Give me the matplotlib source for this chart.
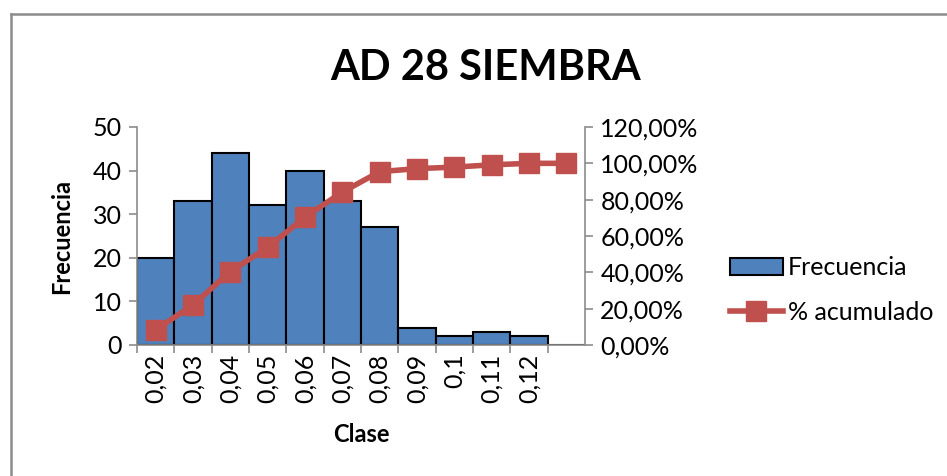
import numpy as np
import matplotlib
matplotlib.use("Agg")
import matplotlib.pyplot as plt
from matplotlib.lines import Line2D
from matplotlib.patches import Patch

clases = ["0,02", "0,03", "0,04", "0,05", "0,06", "0,07", "0,08", "0,09", "0,1", "0,11", "0,12", ""]
frecuencia = [20, 33, 44, 32, 40, 33, 27, 4, 2, 3, 2, 0]
acumulado = [8.33, 22.08, 40.42, 53.75, 70.42, 84.17, 95.42, 97.08, 97.92, 99.17, 100.0, 100.0]

plt.rcParams['font.family'] = ['Lato', 'DejaVu Sans']

W, H = 947, 476
fig = plt.figure(figsize=(W / 100, H / 100), dpi=100)

# chart frame (gray border, open at right/bottom)
fig.add_artist(Line2D([11 / W, 11 / W], [0, 1 - 14 / H], color="#8c8c8c", lw=1.8))
fig.add_artist(Line2D([11 / W, 1], [1 - 14 / H, 1 - 14 / H], color="#8c8c8c", lw=1.8))

L, R, B, T = 137, 585, 345, 127
ax = fig.add_axes([L / W, 1 - B / H, (R - L) / W, (B - T) / H])
x = np.arange(len(clases))
ax.bar(x, frecuencia, width=1.0, color="#4f81bd", edgecolor="black", linewidth=1.5, zorder=2)
ax.set_xlim(-0.5, len(clases) - 0.5)
ax.set_ylim(0, 50)
ax.set_yticks(range(0, 51, 10))
ax.set_xticks(x - 0.5, minor=False)
ax.set_xticklabels([])
ax.set_xticks(x, minor=True)
ax.set_xticklabels(clases, minor=True, rotation=90, fontsize=18)
ax.tick_params(axis="x", which="minor", length=0, pad=6)
ax.tick_params(axis="x", which="major", length=6, color="#8c8c8c", width=1.2, direction="out")
ax.tick_params(axis="y", length=6, color="#8c8c8c", width=1.2, labelsize=18, pad=5)
for s in ["top", "right"]:
    ax.spines[s].set_visible(False)
ax.spines["left"].set_color("#8c8c8c")
ax.spines["bottom"].set_color("#8c8c8c")
ax.spines["left"].set_linewidth(1.2)
ax.spines["bottom"].set_linewidth(1.2)
ax.set_ylabel("Frecuencia", fontsize=17, fontweight="bold", va="center")
ax.yaxis.set_label_coords((62 - L) / (R - L), 0.5)
ax.set_xlabel("Clase", fontsize=17, fontweight="bold", va="center")
ax.xaxis.set_label_coords(0.5, (B - 435) / (B - T))

ax2 = ax.twinx()
ax2.plot(x, acumulado, color="#c0504d", lw=4, marker="s", markersize=14, zorder=3)
ax2.set_ylim(0, 120)
ax2.set_yticks(range(0, 121, 20))
ax2.set_yticklabels([f"{v},00%" for v in range(0, 121, 20)])
ax2.tick_params(axis="y", length=6, color="#8c8c8c", width=1.2, labelsize=18, pad=5)
for s in ["top", "left", "bottom"]:
    ax2.spines[s].set_visible(False)
ax2.spines["right"].set_color("#8c8c8c")
ax2.spines["right"].set_linewidth(1.2)

fig.text(486 / W, 1 - 68 / H, "AD 28 SIEMBRA", fontsize=30, fontweight="bold", ha="center", va="center")

handles = [Patch(facecolor="#4f81bd", edgecolor="black", linewidth=1.5),
           Line2D([0], [0], color="#c0504d", lw=4, marker="s", markersize=14)]
fig.legend(handles, ["Frecuencia", "% acumulado"], loc="center left",
           bbox_to_anchor=(730 / W, 1 - 290 / H), frameon=False, fontsize=18,
           borderpad=0, borderaxespad=0,
           handlelength=2.1, handletextpad=0.2, labelspacing=0.85)

fig.savefig("out.png", dpi=100)
